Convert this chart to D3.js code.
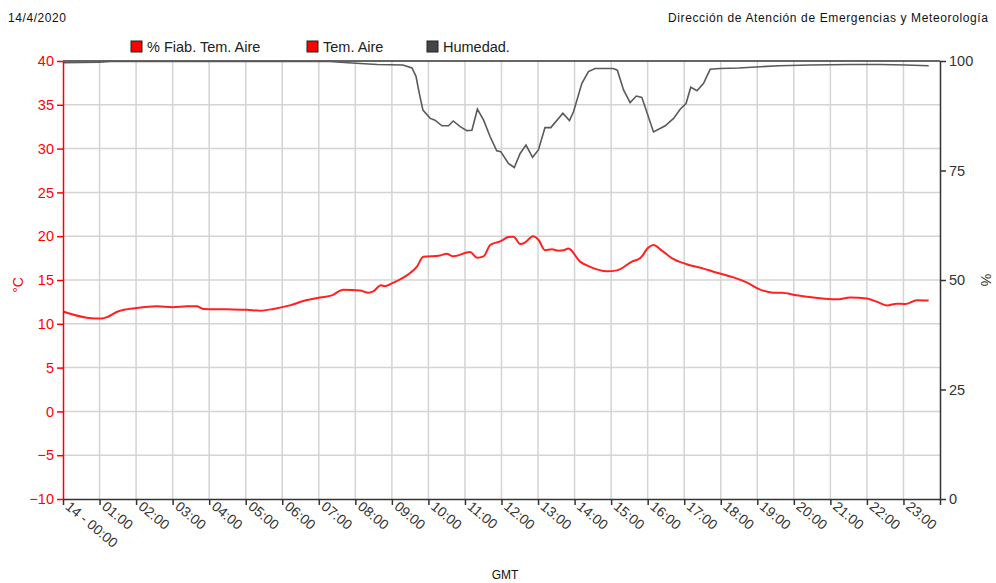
<html>
<head>
<meta charset="utf-8">
<script src="https://cdn.jsdelivr.net/npm/d3@7"></script>
<style>
  body { margin: 0; background: #fff; }
  svg { font-family: 'Liberation Sans', Arial, sans-serif; }
</style>
</head>
<body>
<div id="chart"></div>
<script>
  // hour of day (decimal) and air temperature
  var tempHours = [0, 0.65, 1.06, 1.23, 1.5, 2.02, 2.56, 3.01, 3.39, 3.66, 3.84, 4.48, 5.03, 5.39, 5.76,
    6.21, 6.58, 7.04, 7.36, 7.67, 8.13, 8.36, 8.49, 8.70, 8.81, 9.04, 9.50, 9.68, 9.86, 10.32, 10.50,
    10.68, 11.14, 11.33, 11.51, 11.69, 11.96, 12.19, 12.33, 12.51, 12.65, 12.86, 13.01, 13.19, 13.38,
    13.56, 13.70, 13.83, 14.15, 14.43, 14.88, 15.16, 15.57, 15.80, 16.02, 16.16, 16.39, 16.66, 17.07,
    17.53, 17.80, 18.35, 18.72, 19.08, 19.44, 19.67, 20.08, 20.54, 21.18, 21.54, 22.00, 22.28, 22.55,
    22.82, 23.05, 23.37, 23.69];
  var tempValues = [11.4, 10.7, 10.6, 10.8, 11.4, 11.8, 12.0, 11.9, 12.0, 12.0, 11.7, 11.65, 11.6, 11.5, 11.7,
    12.1, 12.6, 13.0, 13.25, 13.9, 13.8, 13.55, 13.7, 14.4, 14.3, 14.7, 15.8, 16.5, 17.65, 17.8, 18.0,
    17.7, 18.2, 17.55, 17.7, 19.0, 19.4, 19.9, 19.95, 19.1, 19.3, 20.0, 19.6, 18.4, 18.5,
    18.35, 18.4, 18.6, 17.1, 16.5, 16.0, 16.1, 17.1, 17.5, 18.7, 19.0, 18.35, 17.5, 16.8,
    16.3, 15.95, 15.3, 14.7, 13.9, 13.55, 13.55, 13.25, 13.0, 12.8, 13.0, 12.9, 12.5, 12.1,
    12.3, 12.25, 12.7, 12.65];

  // hour of day and relative humidity (%)
  var humHours = [0, 1.0, 1.3, 2, 3, 4, 5, 6, 7.3, 7.8, 8.6, 9.3, 9.55, 9.66, 9.75, 9.85, 10.05, 10.18,
    10.37, 10.55, 10.68, 10.87, 11.05, 11.19, 11.34, 11.51, 11.69, 11.87, 11.98, 12.19, 12.35, 12.51,
    12.67, 12.85, 13.01, 13.19, 13.35, 13.68, 13.86, 13.97, 14.20, 14.38, 14.56, 15.06, 15.17, 15.34,
    15.52, 15.69, 15.84, 16.16, 16.48, 16.71, 16.89, 17.05, 17.18, 17.35, 17.53, 17.71, 17.98, 18.5,
    19.08, 19.6, 20.45, 21.54, 22.37, 23.05, 23.69];
  var humValues = [99.6, 99.7, 99.9, 99.9, 99.9, 99.9, 99.9, 99.9, 99.9, 99.6, 99.2, 99.1, 98.4, 96.5, 92.6, 88.8, 86.9, 86.5,
    85.2, 85.2, 86.3, 85.0, 84.1, 84.2, 89.0, 86.5, 82.7, 79.5, 79.3, 76.6, 75.7, 78.9,
    80.8, 78.0, 79.7, 84.8, 84.8, 88.1, 86.4, 88.4, 94.9, 97.6, 98.3, 98.3, 97.9, 93.4,
    90.5, 92.0, 91.7, 83.8, 85.2, 86.9, 89.0, 90.3, 94.0, 93.2, 94.9, 98.1, 98.3, 98.4,
    98.7, 98.9, 99.1, 99.2, 99.2, 99.1, 98.9];

  var tempTicks = [-10, -5, 0, 5, 10, 15, 20, 25, 30, 35, 40];
  var humTicks = [0, 25, 50, 75, 100];
  var hourLabels = ['14 - 00:00', '01:00', '02:00', '03:00', '04:00', '05:00', '06:00', '07:00', '08:00',
    '09:00', '10:00', '11:00', '12:00', '13:00', '14:00', '15:00', '16:00', '17:00', '18:00', '19:00',
    '20:00', '21:00', '22:00', '23:00'];
  var legendItems = ['% Fiab. Tem. Aire', 'Tem. Aire', 'Humedad.'];
  var legendColors = ['#ff0000', '#ff0000', '#454545'];

  var width = 996, height = 583;
  var plotLeft = 63, plotRight = 940, plotTop = 61, plotBottom = 499;

  var svg = d3.select('#chart').append('svg')
      .attr('width', width)
      .attr('height', height);

  var x = d3.scaleLinear().domain([0, 24]).range([plotLeft, plotRight]);
  var yT = d3.scaleLinear().domain([-10, 40]).range([plotBottom, plotTop]);
  var yH = d3.scaleLinear().domain([0, 100]).range([plotBottom, plotTop]);

  // header texts
  svg.append('text')
      .attr('x', 8).attr('y', 22)
      .attr('textLength', 58)
      .style('font-size', '12px')
      .style('fill', '#111')
      .text('14/4/2020');

  svg.append('text')
      .attr('x', 668).attr('y', 22)
      .attr('textLength', 320)
      .style('font-size', '12px')
      .style('fill', '#111')
      .text('Dirección de Atención de Emergencias y Meteorología');

  // legend
  var legendX = [131, 307, 427];
  var leg = svg.selectAll('.leg')
      .data(legendItems)
      .enter().append('g')
      .attr('class', 'leg')
      .attr('transform', function (d, i) { return 'translate(' + legendX[i] + ',41)'; });
  leg.append('rect')
      .attr('width', 11).attr('height', 11)
      .style('fill', function (d, i) { return legendColors[i]; })
      .style('stroke', '#222')
      .style('stroke-width', 1);
  leg.append('text')
      .attr('x', 16).attr('y', 11)
      .style('font-size', '14.5px')
      .style('fill', '#222')
      .text(function (d) { return d; });

  // grid
  svg.append('g').selectAll('line')
      .data(d3.range(1, 24))
      .enter().append('line')
      .attr('x1', function (d) { return x(d); })
      .attr('x2', function (d) { return x(d); })
      .attr('y1', plotTop).attr('y2', plotBottom)
      .style('stroke', '#d4d4d4')
      .style('stroke-width', 1.5);
  svg.append('g').selectAll('line')
      .data(tempTicks.slice(1, -1))
      .enter().append('line')
      .attr('x1', plotLeft).attr('x2', plotRight)
      .attr('y1', function (d) { return yT(d); })
      .attr('y2', function (d) { return yT(d); })
      .style('stroke', '#d4d4d4')
      .style('stroke-width', 1.5);

  // top border
  svg.append('line')
      .attr('x1', plotLeft).attr('x2', plotRight)
      .attr('y1', plotTop).attr('y2', plotTop)
      .style('stroke', '#333').style('stroke-width', 1.5);

  // lines
  var humLine = d3.line()
      .x(function (d, i) { return x(humHours[i]); })
      .y(function (d) { return yH(d); });
  svg.append('path')
      .datum(humValues)
      .attr('d', humLine)
      .style('fill', 'none')
      .style('stroke', '#5a5a5a')
      .style('stroke-width', 1.6);

  var tempLine = d3.line()
      .curve(d3.curveMonotoneX)
      .x(function (d, i) { return x(tempHours[i]); })
      .y(function (d) { return yT(d); });
  svg.append('path')
      .datum(tempValues)
      .attr('d', tempLine)
      .style('fill', 'none')
      .style('stroke', '#ff2020')
      .style('stroke-width', 2);

  // axes
  var xAxis = svg.append('g')
      .attr('transform', 'translate(0,' + plotBottom + ')')
      .call(d3.axisBottom(x).tickValues(d3.range(0, 25)).tickSize(6).tickSizeOuter(0)
        .tickFormat(function (d) { return hourLabels[d] || ''; }));
  xAxis.select('.domain').style('stroke', '#333').style('stroke-width', 1.5);
  xAxis.selectAll('.tick line').style('stroke', '#333').style('stroke-width', 1.5);
  xAxis.selectAll('.tick text')
      .attr('text-anchor', 'start')
      .attr('dy', null)
      .attr('y', 0)
      .attr('transform', 'translate(1,9) rotate(40)')
      .style('font-size', '14px')
      .style('fill', '#333');

  var yLeft = svg.append('g')
      .attr('transform', 'translate(' + plotLeft + ',0)')
      .call(d3.axisLeft(yT).tickValues(tempTicks).tickSize(6).tickSizeOuter(0));
  yLeft.select('.domain').style('stroke', '#ff0000').style('stroke-width', 1.5);
  yLeft.selectAll('.tick line').style('stroke', '#ff0000').style('stroke-width', 1.5);
  yLeft.selectAll('.tick text')
      .style('font-size', '14.5px')
      .style('fill', '#ff0000');

  var yRight = svg.append('g')
      .attr('transform', 'translate(' + plotRight + ',0)')
      .call(d3.axisRight(yH).tickValues(humTicks).tickSize(6).tickSizeOuter(0));
  yRight.select('.domain').style('stroke', '#333').style('stroke-width', 1.5);
  yRight.selectAll('.tick line').style('stroke', '#333').style('stroke-width', 1.5);
  yRight.selectAll('.tick text')
      .style('font-size', '14.5px')
      .style('fill', '#333');

  // axis titles
  svg.append('text')
      .attr('transform', 'translate(23,285) rotate(-90)')
      .attr('text-anchor', 'middle')
      .style('font-size', '14px')
      .style('fill', '#ff0000')
      .text('°C');

  svg.append('text')
      .attr('transform', 'translate(981,280) rotate(90)')
      .attr('text-anchor', 'middle')
      .style('font-size', '14px')
      .style('fill', '#333')
      .text('%');

  svg.append('text')
      .attr('x', 505).attr('y', 579)
      .attr('text-anchor', 'middle')
      .style('font-size', '12px')
      .style('fill', '#111')
      .text('GMT');
</script>
</body>
</html>
